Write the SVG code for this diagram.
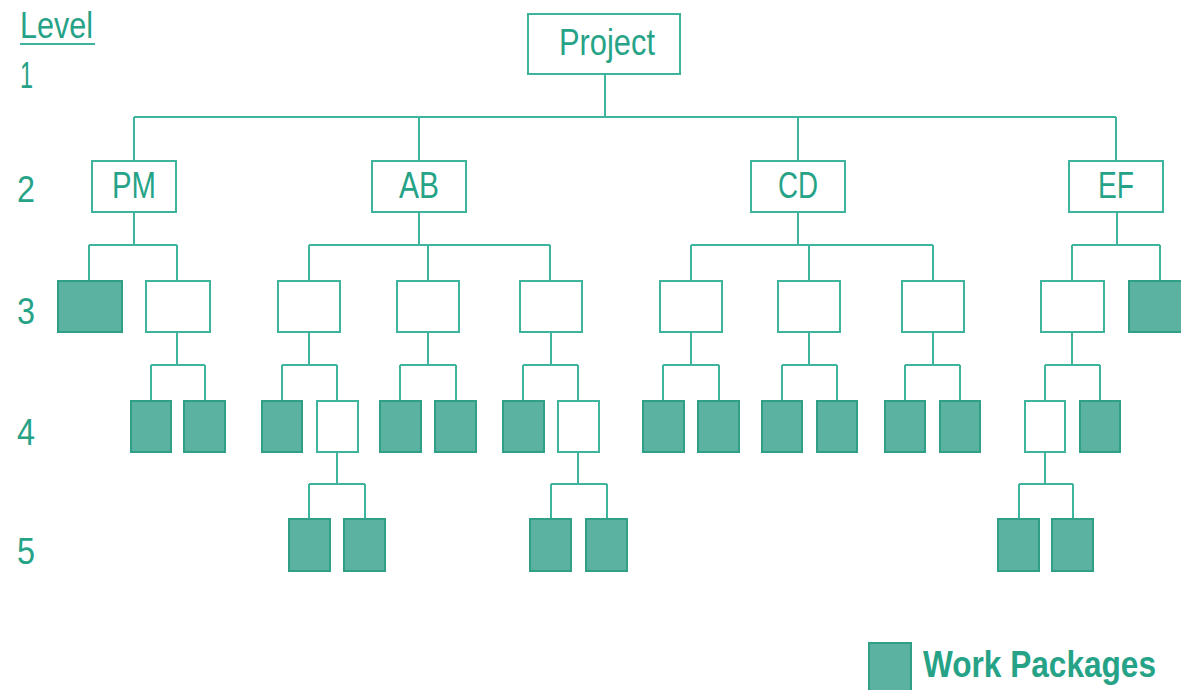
<svg xmlns="http://www.w3.org/2000/svg" width="1181" height="690" viewBox="0 0 1181 690">
<style>
.lbl{font-family:"Liberation Sans",Arial,sans-serif;fill:#26a387;font-size:36px}
.box{fill:#fff;stroke:#3fb49c;stroke-width:2}
.wp{fill:#5bb2a0;stroke:#2fa085;stroke-width:2}
.con{fill:none;stroke:#3fb49c;stroke-width:2}
</style>
<rect width="1181" height="690" fill="#fff"/>
<g id="levels">
<text class="lbl" x="20" y="38" textLength="73" lengthAdjust="spacingAndGlyphs" font-size="35">Level</text>
<line x1="20" y1="44" x2="95" y2="44" stroke="#3fb49c" stroke-width="2"/>
<text class="lbl" x="20" y="88" textLength="13" lengthAdjust="spacingAndGlyphs">1</text>
<text class="lbl" x="17" y="202" textLength="18" lengthAdjust="spacingAndGlyphs">2</text>
<text class="lbl" x="17" y="324" textLength="18" lengthAdjust="spacingAndGlyphs">3</text>
<text class="lbl" x="17" y="445" textLength="18" lengthAdjust="spacingAndGlyphs">4</text>
<text class="lbl" x="17" y="564" textLength="18" lengthAdjust="spacingAndGlyphs">5</text>
</g>
<g id="connectors">
<path class="con" d="M605 74V117M134 117H1116M134 117V161M419 117V161M798 117V161M1116 117V161"/>
<path class="con" d="M134 212V245M89 245H177M89 245V281M177 245V281M177 332V365M151 365H205M151 365V401M205 365V401"/>
<path class="con" d="M419 212V245M309 245H550M309 245V281M428 245V281M550 245V281"/>
<path class="con" d="M309 332V365M282 365H337M282 365V401M337 365V401M337 452V484M309 484H365M309 484V519M365 484V519"/>
<path class="con" d="M428 332V365M400 365H456M400 365V401M456 365V401"/>
<path class="con" d="M551 332V365M523 365H578M523 365V401M578 365V401M578 452V484M551 484H607M551 484V519M607 484V519"/>
<path class="con" d="M798 212V245M691 245H933M691 245V281M809 245V281M933 245V281"/>
<path class="con" d="M691 332V365M663 365H719M663 365V401M719 365V401"/>
<path class="con" d="M809 332V365M782 365H837M782 365V401M837 365V401"/>
<path class="con" d="M933 332V365M905 365H960M905 365V401M960 365V401"/>
<path class="con" d="M1117 212V245M1072 245H1160M1072 245V281M1160 245V281M1072 332V365M1045 365H1100M1045 365V401M1100 365V401M1045 452V484M1019 484H1073M1019 484V519M1073 484V519"/>
</g>
<g id="project"><rect class="box" x="528" y="14" width="152" height="60"/><text class="lbl" x="607" y="55" text-anchor="middle" textLength="96" lengthAdjust="spacingAndGlyphs" font-size="38">Project</text></g>
<g id="pm"><rect class="box" x="92" y="161" width="84" height="51"/><text class="lbl" x="134" y="198" text-anchor="middle" textLength="44" lengthAdjust="spacingAndGlyphs">PM</text></g>
<g id="ab"><rect class="box" x="372" y="161" width="94" height="51"/><text class="lbl" x="419" y="198" text-anchor="middle" textLength="40" lengthAdjust="spacingAndGlyphs">AB</text></g>
<g id="cd"><rect class="box" x="751" y="161" width="94" height="51"/><text class="lbl" x="798" y="198" text-anchor="middle" textLength="40" lengthAdjust="spacingAndGlyphs">CD</text></g>
<g id="ef"><rect class="box" x="1069" y="161" width="94" height="51"/><text class="lbl" x="1116" y="198" text-anchor="middle" textLength="36" lengthAdjust="spacingAndGlyphs">EF</text></g>
<g id="l3">
<rect id="pm1" class="wp" x="58" y="281" width="64" height="51"/>
<rect id="pm2" class="box" x="146" y="281" width="64" height="51"/>
<rect id="ab1" class="box" x="278" y="281" width="62" height="51"/>
<rect id="ab2" class="box" x="397" y="281" width="62" height="51"/>
<rect id="ab3" class="box" x="520" y="281" width="62" height="51"/>
<rect id="cd1" class="box" x="660" y="281" width="62" height="51"/>
<rect id="cd2" class="box" x="778" y="281" width="62" height="51"/>
<rect id="cd3" class="box" x="902" y="281" width="62" height="51"/>
<rect id="ef1" class="box" x="1041" y="281" width="63" height="51"/>
<rect id="ef2" class="wp" x="1129" y="281" width="64" height="51"/>
</g>
<g id="l4">
<rect id="pm2a" class="wp" x="131" y="401" width="40" height="51"/>
<rect id="pm2b" class="wp" x="184" y="401" width="41" height="51"/>
<rect id="ab1a" class="wp" x="262" y="401" width="40" height="51"/>
<rect id="ab1b" class="box" x="317" y="401" width="41" height="51"/>
<rect id="ab2a" class="wp" x="380" y="401" width="41" height="51"/>
<rect id="ab2b" class="wp" x="435" y="401" width="41" height="51"/>
<rect id="ab3a" class="wp" x="503" y="401" width="41" height="51"/>
<rect id="ab3b" class="box" x="558" y="401" width="41" height="51"/>
<rect id="cd1a" class="wp" x="643" y="401" width="41" height="51"/>
<rect id="cd1b" class="wp" x="698" y="401" width="41" height="51"/>
<rect id="cd2a" class="wp" x="762" y="401" width="40" height="51"/>
<rect id="cd2b" class="wp" x="817" y="401" width="40" height="51"/>
<rect id="cd3a" class="wp" x="885" y="401" width="40" height="51"/>
<rect id="cd3b" class="wp" x="940" y="401" width="40" height="51"/>
<rect id="ef1a" class="box" x="1025" y="401" width="40" height="51"/>
<rect id="ef1b" class="wp" x="1080" y="401" width="40" height="51"/>
</g>
<g id="l5">
<rect id="ab1b1" class="wp" x="289" y="519" width="41" height="52"/>
<rect id="ab1b2" class="wp" x="344" y="519" width="41" height="52"/>
<rect id="ab3b1" class="wp" x="530" y="519" width="41" height="52"/>
<rect id="ab3b2" class="wp" x="586" y="519" width="41" height="52"/>
<rect id="ef1a1" class="wp" x="998" y="519" width="41" height="52"/>
<rect id="ef1a2" class="wp" x="1052" y="519" width="41" height="52"/>
</g>
<g id="legend">
<rect class="wp" x="869" y="643" width="42" height="48"/>
<text class="lbl" x="1156" y="677" text-anchor="end" font-weight="bold" font-size="32" textLength="233" lengthAdjust="spacingAndGlyphs">Work Packages</text>
</g>
</svg>
